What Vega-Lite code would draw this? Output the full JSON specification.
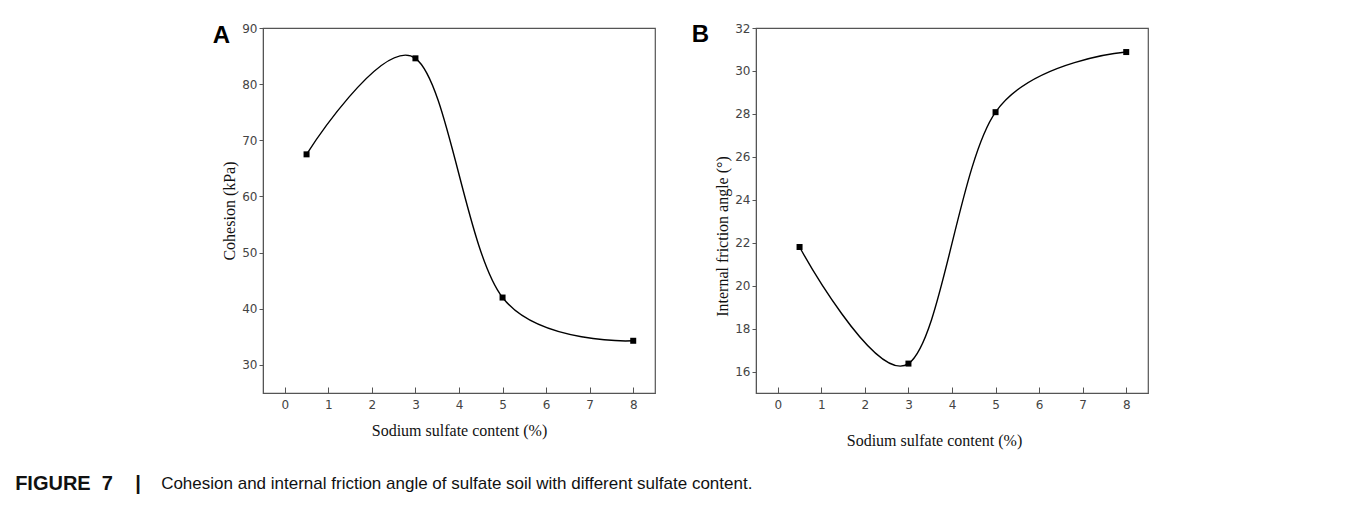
{
  "$schema": "https://vega.github.io/schema/vega-lite/v6.json",
  "padding": {"left": 15, "top": 21, "right": 5, "bottom": 5},
  "background": "white",
  "config": {
    "view": {"stroke": "#555", "strokeWidth": 1.2},
    "axis": {"domainColor": "#555", "tickColor": "#555", "labelFont": "DejaVu Sans", "labelFontSize": 12, "labelColor": "#444", "titleFont": "Liberation Serif", "titleFontSize": 16, "titleFontWeight": "normal", "titleColor": "#111", "grid": false},
    "concat": {"spacing": 35}
  },
  "title": {"text": "FIGURE\u00a0\u00a07\u00a0\u00a0\u00a0\u00a0|", "orient": "bottom", "anchor": "start", "frame": "bounds", "font": "Liberation Sans", "fontSize": 20, "fontWeight": "bold", "color": "#111", "dx": -146, "dy": -22},
  "vconcat": [
    {
      "title": {"text": "Cohesion and internal friction angle of sulfate soil with different sulfate content.", "orient": "bottom", "anchor": "start", "frame": "bounds", "font": "Liberation Sans", "fontSize": 17, "fontWeight": "normal", "color": "#111", "dx": -51, "dy": 23},
      "hconcat": [
        {
          "width": 392, "height": 365,
          "title": {"text": "A", "anchor": "start", "frame": "bounds", "font": "Liberation Sans", "fontSize": 24, "fontWeight": "bold", "color": "#000", "dx": -9, "dy": 30},
          "data": {"values": [
            {"content": 0.5, "cohesion": 67.5},
            {"content": 3, "cohesion": 84.6},
            {"content": 5, "cohesion": 42.0},
            {"content": 8, "cohesion": 34.3}
          ]},
          "encoding": {
            "x": {"field": "content", "type": "quantitative", "scale": {"domain": [-0.5, 8.5], "nice": false, "zero": false}, "axis": {"values": [0,1,2,3,4,5,6,7,8], "title": "Sodium sulfate content (%)", "tickSize": -6, "labelPadding": 12, "titlePadding": 12, "labelFont": "DejaVu Sans", "labelFontSize": 12, "labelColor": "#444"}},
            "y": {"field": "cohesion", "type": "quantitative", "scale": {"domain": [25, 90], "nice": false, "zero": false}, "axis": {"values": [30,40,50,60,70,80,90], "title": "Cohesion (kPa)", "tickSize": 4, "labelPadding": 2, "titlePadding": 4, "labelFont": "DejaVu Sans", "labelFontSize": 12, "labelColor": "#444"}}
          },
          "layer": [
            {"mark": {"type": "line", "interpolate": "cardinal", "color": "black", "strokeWidth": 1.4}},
            {"mark": {"type": "point", "shape": "square", "filled": true, "color": "black", "size": 36, "opacity": 1}}
          ]
        },
        {
          "width": 392, "height": 365,
          "title": {"text": "B", "anchor": "start", "frame": "bounds", "font": "Liberation Sans", "fontSize": 24, "fontWeight": "bold", "color": "#000", "dx": -23, "dy": 29},
          "data": {"values": [
            {"content": 0.5, "angle": 21.8},
            {"content": 3, "angle": 16.37},
            {"content": 5, "angle": 28.08},
            {"content": 8, "angle": 30.88}
          ]},
          "encoding": {
            "x": {"field": "content", "type": "quantitative", "scale": {"domain": [-0.5, 8.5], "nice": false, "zero": false}, "axis": {"values": [0,1,2,3,4,5,6,7,8], "title": "Sodium sulfate content (%)", "tickSize": -6, "labelPadding": 12, "titlePadding": 22, "titleX": 178, "labelFont": "DejaVu Sans", "labelFontSize": 12, "labelColor": "#444"}},
            "y": {"field": "angle", "type": "quantitative", "scale": {"domain": [15, 32], "nice": false, "zero": false}, "axis": {"values": [16,18,20,22,24,26,28,30,32], "title": "Internal friction angle (°)", "tickSize": 4, "labelPadding": 2, "titlePadding": 4, "titleY": 208, "labelFont": "DejaVu Sans", "labelFontSize": 12, "labelColor": "#444"}}
          },
          "layer": [
            {"mark": {"type": "line", "interpolate": "cardinal", "color": "black", "strokeWidth": 1.4}},
            {"mark": {"type": "point", "shape": "square", "filled": true, "color": "black", "size": 36, "opacity": 1}}
          ]
        }
      ]
    }
  ]
}
